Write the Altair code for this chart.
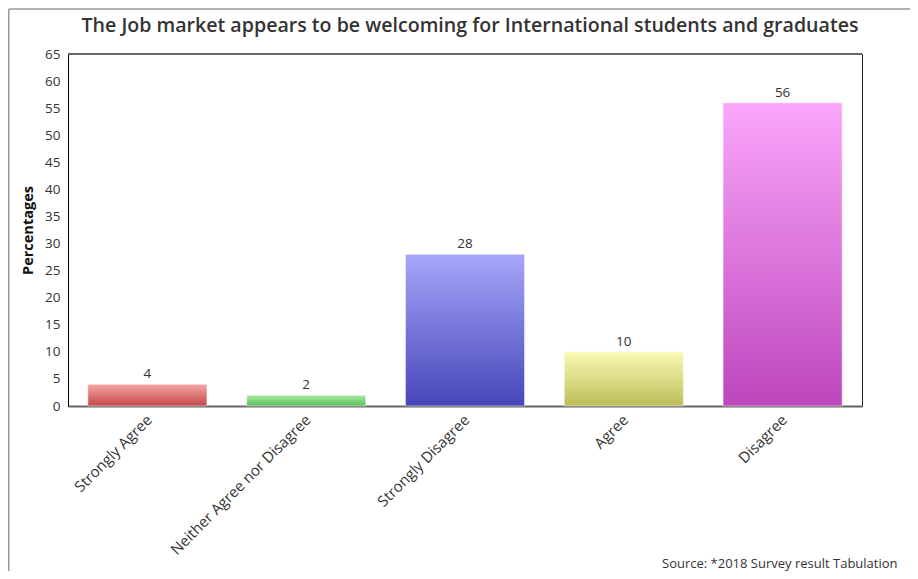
import altair as alt
import pandas as pd

categories = ["Strongly Agree", "Neither Agree nor Disagree", "Strongly Disagree", "Agree", "Disagree"]
values = [4, 2, 28, 10, 56]
top_colors = ["#f6a4a4", "#a9eea3", "#a6a6fa", "#fafab6", "#fba6fb"]
bottom_colors = ["#c44a4a", "#5bbd5b", "#4646b9", "#bdbd58", "#bd46bd"]
y_ticks = list(range(0, 70, 5))
title_text = "The Job market appears to be welcoming for International students and graduates"
y_title = "Percentages"
source_text = "Source: *2018 Survey result Tabulation"

FONT = "Open Sans"
df = pd.DataFrame({"category": categories, "value": values})

x_enc = alt.X(
    "category:N",
    sort=categories,
    scale=alt.Scale(paddingInner=0.25, paddingOuter=0.125),
    axis=alt.Axis(
        title=None, labelAngle=-45, labelFontSize=15, labelFont=FONT, labelColor="#333",
        labelPadding=6, labelOffset=-3, labelLimit=400, ticks=False,
        domainColor="#666", domainWidth=2,
    ),
)
y_enc = alt.Y(
    "value:Q",
    scale=alt.Scale(domain=[0, 65], nice=False),
    axis=alt.Axis(
        values=y_ticks, title=y_title, grid=False, ticks=False, labelPadding=8,
        labelFontSize=13.5, labelFont=FONT, labelColor="#333", domainColor="#000",
        titleFont=FONT, titleFontSize=14.5, titleFontWeight="bold", titleColor="#111",
        titlePadding=9,
    ),
)

base = alt.Chart(df).encode(x=x_enc, y=y_enc)

layers = []
for cat, tc, bc in zip(categories, top_colors, bottom_colors):
    grad = alt.Gradient(
        gradient="linear",
        stops=[alt.GradientStop(color=tc, offset=0), alt.GradientStop(color=bc, offset=1)],
        x1=0, x2=0, y1=0, y2=1,
    )
    layers.append(
        base.transform_filter(alt.datum.category == cat).mark_bar(
            color=grad, stroke="#ffffff", strokeOpacity=0.5, strokeWidth=1
        )
    )

labels = base.mark_text(
    dy=-3, baseline="bottom", fontSize=13.5, font=FONT, color="#333"
).encode(text="value:Q")

one = pd.DataFrame({"a": [0]})
left_border = alt.Chart(one).mark_rule(color="#999", strokeWidth=1.5).encode(
    x=alt.value(-59.25), y=alt.value(-45), y2=alt.value(517)
)
top_border = alt.Chart(one).mark_rule(color="#999", strokeWidth=1.5).encode(
    x=alt.value(-59.25), x2=alt.value(842), y=alt.value(-45)
)
plot_top = alt.Chart(one).mark_rule(color="#666", strokeWidth=2).encode(
    x=alt.value(0), x2=alt.value(794), y=alt.value(0)
)
title = alt.Chart(one).mark_text(
    align="center", baseline="middle", fontSize=19.6, fontWeight=600, font=FONT, color="#333"
).encode(x=alt.value(402), y=alt.value(-28), text=alt.value(title_text))
source = alt.Chart(one).mark_text(
    align="left", baseline="bottom", fontSize=13, font=FONT, color="#333"
).encode(x=alt.value(594), y=alt.value(517), text=alt.value(source_text))

chart = alt.layer(*layers, labels, left_border, top_border, plot_top, title, source).properties(
    width=794,
    height=352,
    padding={"left": 60, "top": 46, "right": 48, "bottom": 165},
    autosize="none",
).configure_view(stroke="#222", strokeWidth=1)

chart.save("out.html", embed_options={"renderer": "svg", "actions": False})
